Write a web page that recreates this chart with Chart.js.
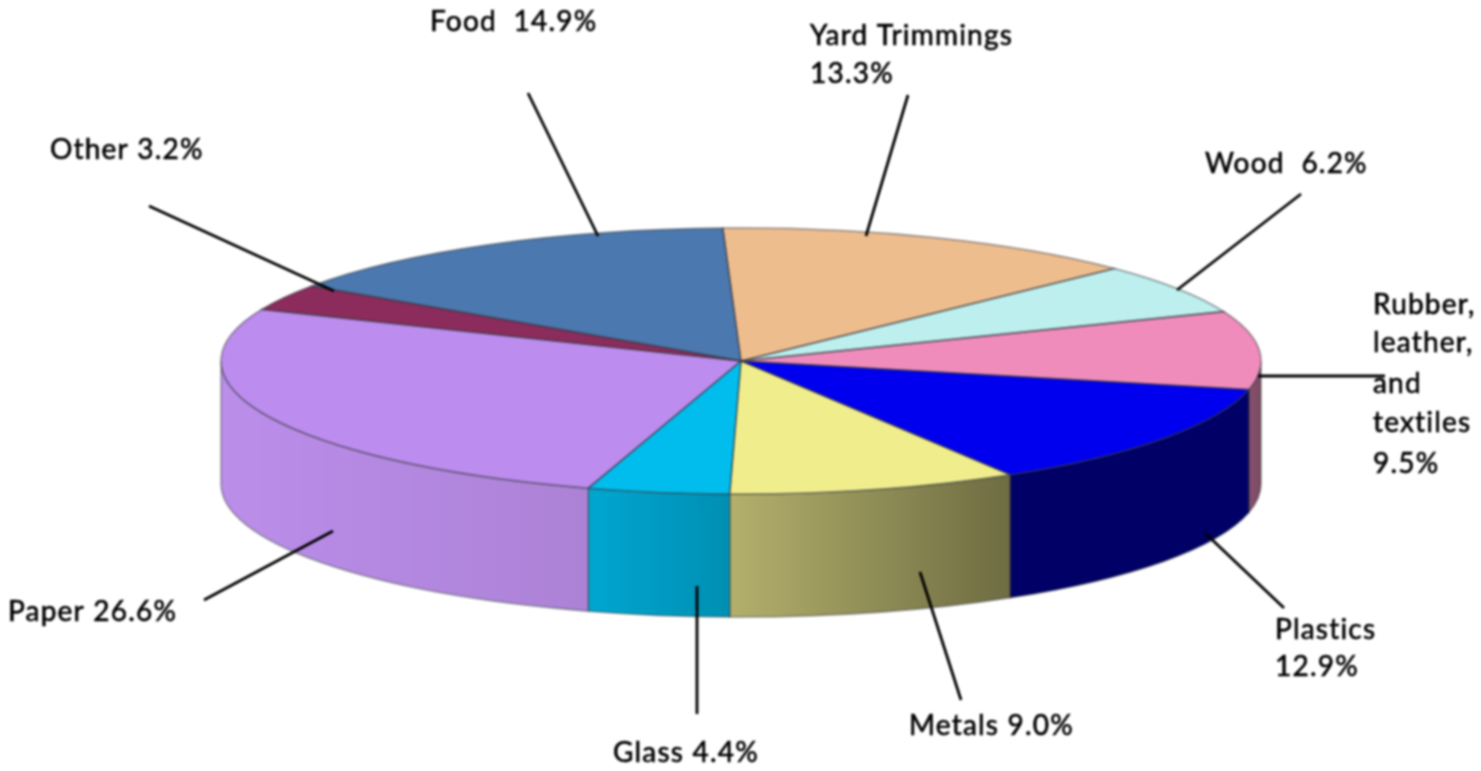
<!DOCTYPE html>
<html>
<head>
<meta charset="utf-8">
<style>
html,body{margin:0;padding:0;background:#fff;overflow:hidden}
canvas{display:block;filter:blur(0.85px)}
</style>
<script src="https://cdn.jsdelivr.net/npm/chart.js@4"></script>
</head>
<body>
<canvas id="c" width="1481" height="771"></canvas>
<script>
const categories = ["Yard Trimmings","Wood","Rubber, leather, and textiles","Plastics","Metals","Glass","Paper","Other","Food"];
const shares = [13.3,6.2,9.5,12.9,9.0,4.4,26.6,3.2,14.9];
const topColors = ["#eebd8e","#bcefed","#ef8cbb","#0000ee","#f0ee8c","#00bdee","#bc8cee","#8c2c5c","#4b78ae"];
const wallLeft  = ["#b08a66","#8cb0b0","#8a5070","#000066","#b3b06c","#00a6d0","#bb8eea","#662244","#36587f"];
const wallRight = ["#8a6c50","#6e8a8a","#7a4a60","#000066","#6e6c42","#008fb3","#ac82d6","#662244","#36587f"];

/* label text and where each callout sits */
const labelLines = [
 ["Yard Trimmings","13.3%"],["Wood  6.2%"],["Rubber,","leather,","and","textiles","9.5%"],
 ["Plastics","12.9%"],["Metals 9.0%"],["Glass 4.4%"],["Paper 26.6%"],["Other 3.2%"],["Food  14.9%"]];
const labelAnchors = [
 [810,[36,74]],[1205,[164]],[1373,[305,343,384,423,464]],
 [1275,[630,667]],[909,[726]],[613,[753]],[8,[612]],[50,[150]],[430,[22]]];
const leaders = [
 [908,95,866,236],[1301,194,1177,290],[1258,376,1385,376],
 [1284,608,1205,533],[961,700,920,572],[697,714,697,586],[204,600,333,531],[149,206,334,291],[528,93,598,236]];

const CX=741, CY=361, RX=520, RY=133, DEPTH=123;
const PI=Math.PI;

const pie3d = {
  id:'pie3d',
  beforeDatasetsDraw(chart){
    const ctx=chart.ctx, arcs=chart.getDatasetMeta(0).data;
    ctx.save();
    // side wall: only the part of each slice facing the viewer
    arcs.forEach((el,i)=>{
      const a=Math.max(el.startAngle,0), b=Math.min(el.endAngle,PI);
      if(b<=a) return;
      const xa=CX+RX*Math.cos(a), xb=CX+RX*Math.cos(b);
      const g=ctx.createLinearGradient(Math.min(xa,xb),0,Math.max(xa,xb),0);
      g.addColorStop(0,wallLeft[i]); g.addColorStop(1,wallRight[i]);
      ctx.beginPath();
      ctx.ellipse(CX,CY,RX,RY,0,a,b);
      ctx.ellipse(CX,CY+DEPTH,RX,RY,0,b,a,true);
      ctx.closePath();
      ctx.fillStyle=g; ctx.fill();
      ctx.lineWidth=1.5; ctx.strokeStyle='rgba(40,50,50,0.45)';
      ctx.stroke();
    });
    ctx.restore();
    // squash the library's round pie into the top face
    const el=arcs[0];
    ctx.save();
    ctx.translate(CX,CY);
    ctx.scale(RX/el.outerRadius,RY/el.outerRadius);
    ctx.translate(-el.x,-el.y);
  },
  afterDatasetsDraw(chart){
    const ctx=chart.ctx, arcs=chart.getDatasetMeta(0).data;
    ctx.restore();
    ctx.save();
    arcs.forEach(el=>{
      ctx.beginPath();
      ctx.moveTo(CX,CY);
      ctx.ellipse(CX,CY,RX,RY,0,el.startAngle,el.endAngle);
      ctx.closePath();
      ctx.lineWidth=1.5; ctx.strokeStyle='rgba(50,50,60,0.5)';
      ctx.stroke();
    });
    ctx.strokeStyle='#000'; ctx.lineWidth=2.8; ctx.lineCap='butt';
    leaders.forEach(l=>{
      ctx.beginPath(); ctx.moveTo(l[0],l[1]); ctx.lineTo(l[2],l[3]); ctx.stroke();
    });
    ctx.fillStyle='#000'; ctx.textAlign='left'; ctx.textBaseline='middle';
    ctx.font='28px Lato, "Open Sans", sans-serif';
    ctx.letterSpacing='1.2px';
    ctx.strokeStyle='#000'; ctx.lineWidth=0.6;
    labelLines.forEach((lines,i)=>{
      const [x,ys]=labelAnchors[i];
      lines.forEach((t,k)=>{ctx.fillText(t,x,ys[k]);ctx.strokeText(t,x,ys[k]);});
    });
    ctx.restore();
  }
};

new Chart(document.getElementById('c'),{
  type:'pie',
  data:{labels:categories,datasets:[{data:shares,backgroundColor:topColors,borderWidth:0,clip:false}]},
  options:{
    responsive:false,animation:false,devicePixelRatio:1,rotation:-2,
    layout:{padding:0},
    plugins:{legend:{display:false},tooltip:{enabled:false},title:{display:false}}
  },
  plugins:[pie3d]
});
</script>
</body>
</html>
